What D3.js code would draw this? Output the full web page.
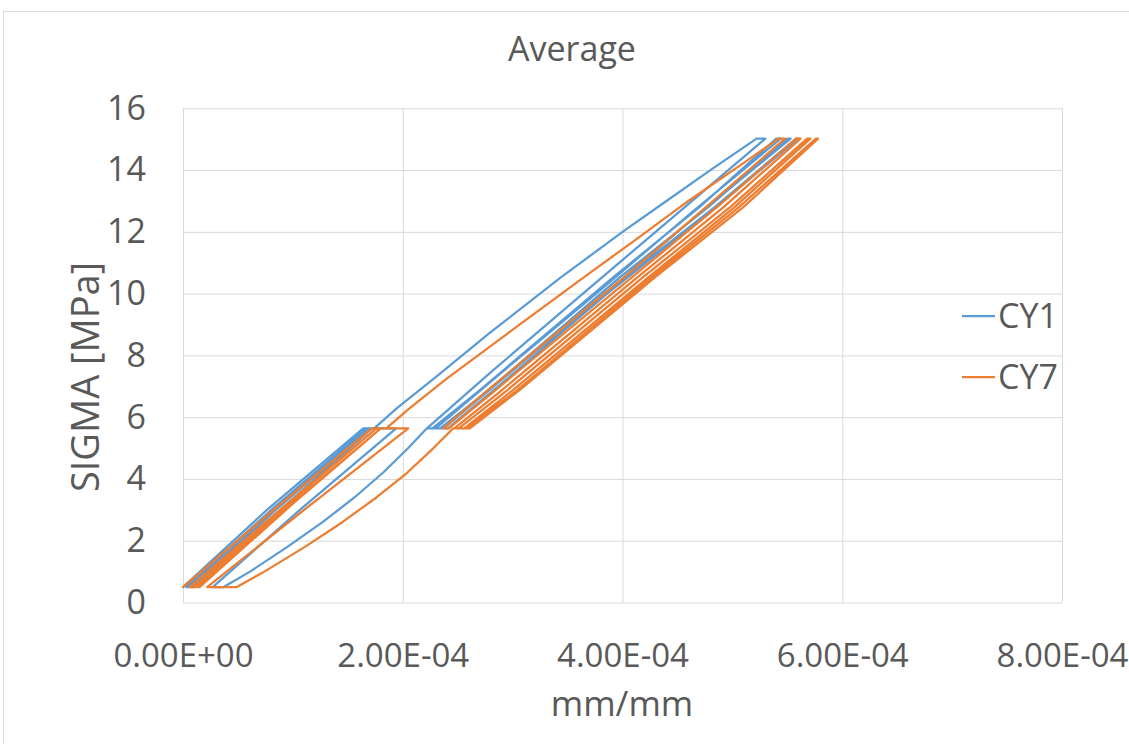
<!DOCTYPE html>
<html>
<head>
<meta charset="utf-8">
<script src="https://cdn.jsdelivr.net/npm/d3@7"></script>
<style>
  body { margin: 0; background: #ffffff; }
  svg { display: block; }
  text { font-family: 'Open Sans', 'Noto Sans', sans-serif; fill: #595959; }
</style>
</head>
<body>
<svg id="chart" width="1129" height="744"></svg>
<script>
// ---------- data ----------
const chartTitle = "Average";
const xAxisTitle = "mm/mm";
const yAxisTitle = "SIGMA [MPa]";
const seriesNames = ["CY1", "CY7"];
const seriesColors = ["#5B9BD5", "#ED7D31"];
const xTickValues = [0, 2e-4, 4e-4, 6e-4, 8e-4];
const xTickLabels = ["0.00E+00", "2.00E-04", "4.00E-04", "6.00E-04", "8.00E-04"];
const yTickValues = [0, 2, 4, 6, 8, 10, 12, 14, 16];
const yTickLabels = ["0", "2", "4", "6", "8", "10", "12", "14", "16"];

// [strain (mm/mm), stress (MPa)] in test order
const cy1Points = [
  [0, 0.5], [0.78e-4, 3.05], [1.64e-4, 5.64], [1.69e-4, 5.64], [0.90e-4, 3.2], [0.06e-4, 0.5],
  [0.03e-4, 0.5], [0.82e-4, 3.05], [1.67e-4, 5.64], [1.72e-4, 5.64], [0.95e-4, 3.2], [0.10e-4, 0.5],
  [0.08e-4, 0.5], [0.86e-4, 3.05], [1.70e-4, 5.64], [1.74e-4, 5.64],
  [1.95e-4, 6.3], [2.30e-4, 7.3], [2.80e-4, 8.75], [3.43e-4, 10.5], [4.00e-4, 12.0], [4.40e-4, 13.0],
  [4.80e-4, 14.0], [5.22e-4, 15.02], [5.30e-4, 15.02],
  [4.50e-4, 12.6], [3.64e-4, 10.0], [2.80e-4, 7.45], [2.22e-4, 5.64], [2.27e-4, 5.64],
  [2.70e-4, 6.87], [3.92e-4, 10.54], [4.70e-4, 12.8], [5.40e-4, 15.02], [5.44e-4, 15.02],
  [4.62e-4, 12.6], [3.76e-4, 10.0], [2.90e-4, 7.45], [2.30e-4, 5.64], [2.34e-4, 5.64],
  [2.78e-4, 6.87], [3.98e-4, 10.54], [4.78e-4, 12.8], [5.50e-4, 15.02], [5.53e-4, 15.02],
  [4.70e-4, 12.6], [3.84e-4, 10.0], [2.98e-4, 7.45], [2.37e-4, 5.64], [2.41e-4, 5.64],
  [2.84e-4, 6.87], [4.03e-4, 10.54], [4.84e-4, 12.8], [5.58e-4, 15.02], [5.60e-4, 15.02],
  [4.78e-4, 12.6], [3.86e-4, 10.0], [3.02e-4, 7.45], [2.41e-4, 5.64], [2.22e-4, 5.64],
  [2.05e-4, 5.0], [1.82e-4, 4.2], [1.56e-4, 3.4], [1.27e-4, 2.6], [0.95e-4, 1.8], [0.61e-4, 1.0],
  [0.37e-4, 0.5], [0.27e-4, 0.5],
  [1.08e-4, 3.05], [1.94e-4, 5.64], [1.67e-4, 5.64]
];

const cy7Points = [
  [0, 0.5], [0.84e-4, 3.05], [1.72e-4, 5.64], [1.76e-4, 5.64], [0.96e-4, 3.2], [0.10e-4, 0.5],
  [0.06e-4, 0.5], [0.90e-4, 3.05], [1.76e-4, 5.64], [1.80e-4, 5.64], [1.00e-4, 3.2], [0.15e-4, 0.5],
  [0.12e-4, 0.5], [0.94e-4, 3.05], [1.80e-4, 5.64], [1.85e-4, 5.64],
  [2.05e-4, 6.25], [2.40e-4, 7.25], [2.95e-4, 8.7], [3.61e-4, 10.43], [4.09e-4, 11.67], [4.60e-4, 13.0],
  [5.13e-4, 14.3], [5.42e-4, 15.02], [5.48e-4, 15.02],
  [4.76e-4, 12.8], [4.02e-4, 10.54], [2.77e-4, 6.87], [2.37e-4, 5.64], [2.42e-4, 5.64],
  [2.84e-4, 6.87], [4.09e-4, 10.54], [4.86e-4, 12.8], [5.58e-4, 15.02], [5.62e-4, 15.02],
  [4.92e-4, 12.8], [4.14e-4, 10.54], [2.90e-4, 6.87], [2.47e-4, 5.64], [2.51e-4, 5.64],
  [2.95e-4, 6.87], [4.19e-4, 10.54], [4.98e-4, 12.8], [5.68e-4, 15.02], [5.71e-4, 15.02],
  [5.02e-4, 12.8], [4.24e-4, 10.54], [3.00e-4, 6.87], [2.56e-4, 5.64], [2.58e-4, 5.64],
  [3.04e-4, 6.87], [4.27e-4, 10.54], [5.06e-4, 12.8], [5.76e-4, 15.02], [5.78e-4, 15.02],
  [5.10e-4, 12.8], [4.30e-4, 10.54], [3.06e-4, 6.87], [2.61e-4, 5.64], [2.46e-4, 5.64],
  [2.28e-4, 5.0], [2.04e-4, 4.2], [1.76e-4, 3.4], [1.45e-4, 2.6], [1.11e-4, 1.8], [0.74e-4, 1.0],
  [0.49e-4, 0.5], [0.22e-4, 0.5],
  [1.12e-4, 3.05], [2.05e-4, 5.64], [1.79e-4, 5.64]
];

const seriesData = [cy1Points, cy7Points];

// ---------- layout ----------
const plot = { left: 183, right: 1062, top: 108.3, bottom: 602.5 };

const svg = d3.select("#chart");

// chart border
svg.append("rect")
  .attr("x", 3.5).attr("y", 11.5)
  .attr("width", 1300).attr("height", 900)
  .attr("fill", "#ffffff").attr("stroke", "#d9d9d9").attr("stroke-width", 1);

const x = d3.scaleLinear().domain([0, 8e-4]).range([plot.left, plot.right]);
const y = d3.scaleLinear().domain([0, 16]).range([plot.bottom, plot.top]);

// y axis with horizontal gridlines
const yAxis = d3.axisLeft(y)
  .tickValues(yTickValues)
  .tickFormat((d, i) => yTickLabels[i])
  .tickSize(-(plot.right - plot.left))
  .tickPadding(37);
const gy = svg.append("g").attr("transform", `translate(${plot.left},0)`).call(yAxis);
gy.select(".domain").remove();
gy.selectAll(".tick line").attr("stroke", "#d9d9d9").attr("stroke-width", 1);
gy.selectAll(".tick text").style("font-size", "34px").attr("fill", "#595959");

// x axis with vertical gridlines
const xAxis = d3.axisBottom(x)
  .tickValues(xTickValues)
  .tickFormat((d, i) => xTickLabels[i])
  .tickSize(-(plot.bottom - plot.top))
  .tickPadding(41);
const gx = svg.append("g").attr("transform", `translate(0,${plot.bottom})`).call(xAxis);
gx.select(".domain").remove();
gx.selectAll(".tick line").attr("stroke", "#d9d9d9").attr("stroke-width", 1);
gx.selectAll(".tick text").style("font-size", "33px").attr("fill", "#595959");

// series lines
const line = d3.line().x(d => x(d[0])).y(d => y(d[1]));
seriesData.forEach((pts, i) => {
  svg.append("path")
    .datum(pts)
    .attr("fill", "none")
    .attr("stroke", seriesColors[i])
    .attr("stroke-width", 2.25)
    .attr("stroke-linejoin", "round")
    .attr("stroke-linecap", "round")
    .attr("d", line);
});

// titles
svg.append("text")
  .attr("x", 572).attr("y", 61)
  .attr("text-anchor", "middle")
  .style("font-size", "34px")
  .text(chartTitle);

svg.append("text")
  .attr("x", 622).attr("y", 716)
  .attr("text-anchor", "middle")
  .style("font-size", "35px")
  .text(xAxisTitle);

svg.append("text")
  .attr("transform", "translate(99,377) rotate(-90)")
  .attr("text-anchor", "middle")
  .style("font-size", "38px")
  .text(yAxisTitle);

// legend
const legendY = [316, 377];
seriesNames.forEach((name, i) => {
  svg.append("line")
    .attr("x1", 962).attr("x2", 995)
    .attr("y1", legendY[i]).attr("y2", legendY[i])
    .attr("stroke", seriesColors[i]).attr("stroke-width", 2.25);
  svg.append("text")
    .attr("x", 998).attr("y", legendY[i])
    .attr("dy", "0.35em")
    .style("font-size", "34px")
    .text(name);
});
</script>
</body>
</html>
